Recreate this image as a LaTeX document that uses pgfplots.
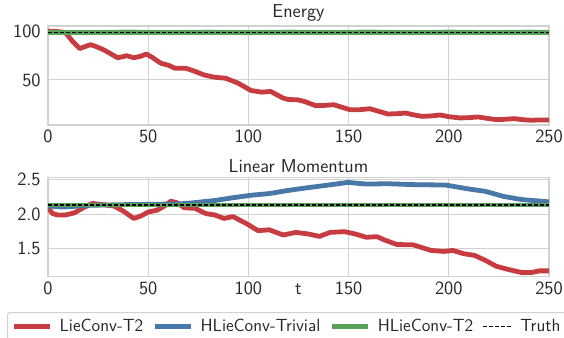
\documentclass[border=0pt]{standalone}
\usepackage{fontspec}
\usepackage{pgfplots}
\pgfplotsset{compat=1.18}
\renewcommand{\familydefault}{\sfdefault}
\definecolor{cred}{RGB}{199,60,64}
\definecolor{cblue}{RGB}{72,120,168}
\definecolor{cgreen}{RGB}{88,160,90}
\definecolor{cgrid}{RGB}{210,210,210}
\definecolor{ctext}{RGB}{38,38,38}
\pgfplotsset{
  base/.style={
    scale only axis, width=375.75pt, height=74.25pt,
    xmin=0, xmax=250, xtick={0,50,...,250},
    grid=major, major grid style={color=cgrid, line width=0.8pt},
    axis line style={cgrid, line width=0.8pt},
    tick style={draw=none},
    /pgf/number format/assume math mode=true,
    font=\fontsize{14}{16}\selectfont,
    tick label style={font=\fontsize{14}{16}\selectfont, color=ctext},
    yticklabel style={xshift=-2pt},
    title style={font=\fontsize{14}{16}\selectfont, color=ctext, yshift=-6pt},
    every axis plot/.append style={line join=round},
  },
  legend image code/.code={\draw[#1] (0pt,0pt) -- (27pt,0pt);},
  shortleg/.style={legend image code/.code={\draw[##1] (0pt,0pt) -- (22pt,0pt);}},
}
\begin{document}
\begin{tikzpicture}
\useasboundingbox (0,0) rectangle (423pt,-253.5pt);
\begin{axis}[base, at={(36pt,-19.5pt)}, anchor=north west,
  title={Energy}, ymin=4, ymax=105, ytick={50,100}]
\addplot[cred, line width=3.6pt] coordinates {
(0,99.8)(4,99.5)(8.6,98.5)(12,90)(15.8,82)(18.5,84)(21.2,86)(24,84)(27.5,81)(31,77)(34.7,72.6)(37,73.5)(39.2,74.7)(42.8,72.6)(46,74)(49.1,76.4)(52,73)(56.3,67)(60,65)(63.5,61.8)(68.9,61.8)(73,59)(77.9,55)(83.3,52.7)(88.7,51.7)(92,49)(95,46.6)(98,43)(101.3,39.2)(106.7,37.5)(111.2,38.2)(114,35)(117.4,31.4)(120,30)(124.6,29.7)(128,28)(133.6,23.7)(138,24)(142.6,24.7)(146,22.5)(150.7,19.6)(155,19.5)(160.6,20.6)(165,18)(169.6,15.2)(174,15.5)(178.6,16.2)(182,14.5)(186.7,12.8)(191,13.2)(195.7,14.2)(200,12.5)(205.6,11.2)(210,11.5)(214.6,12.2)(219,10.8)(223.6,9.5)(228,9.8)(232.6,10.5)(237,9.4)(241.5,8.8)(245,9.2)(250,9.2)};
\addplot[cblue!60, line width=3.6pt] coordinates {
(0,98.6)(20,98.2)(40,98.9)(60,98.2)(80,98.8)(100,98.2)(120,98.8)(140,98.3)(160,98.9)(180,98.2)(200,98.8)(220,98.3)(240,98.8)(250,98.5)};
\addplot[cgreen, line width=3.6pt] coordinates {(0,98.5)(250,98.5)};
\addplot[black, dash pattern=on 3pt off 1.5pt, line width=0.8pt] coordinates {(0,98.5)(250,98.5)};
\end{axis}
\begin{axis}[base, at={(36pt,-133.3pt)}, anchor=north west,
  title={Linear Momentum}, ymin=1.095, ymax=2.53, ytick={1.5,2.0,2.5},
  yticklabel style={/pgf/number format/.cd, fixed, fixed zerofill, precision=1},
  xlabel={t}, xlabel style={at={(axis description cs:0.5,-0.02)}, anchor=north, color=ctext},
  legend columns=4,
  legend style={at={(axis description cs:-0.0818,-0.357)}, anchor=north west,
    draw=cgrid, line width=0.8pt, rounded corners=2pt, text=ctext,
    font=\fontsize{13.2}{15}\selectfont, inner xsep=3pt, inner ysep=3pt,
    /tikz/every even column/.append style={column sep=5pt},
    /tikz/every odd column/.append style={column sep=3.5pt}},
  ]
\addplot[cred, line width=3.6pt] coordinates {
(0,2.095)(2.3,2.01)(5,1.99)(8.6,1.99)(13.1,2.02)(17.6,2.095)(22.1,2.157)(27.5,2.14)(32.9,2.12)(37.4,2.05)(42.8,1.94)(46.4,1.976)(50,2.033)(54.5,2.06)(58.1,2.12)(61.3,2.19)(64.4,2.167)(68,2.095)(73.4,2.086)(78.8,2.01)(83.3,1.99)(87.8,1.94)(92.3,1.967)(99.5,1.857)(104.9,1.762)(110.3,1.776)(117.4,1.70)(123.7,1.738)(130,1.714)(135.4,1.68)(140.8,1.738)(148,1.748)(153.4,1.714)(158.8,1.667)(164.2,1.676)(167.8,1.629)(174.1,1.562)(182.2,1.557)(191.2,1.476)(197.5,1.462)(202,1.476)(207.4,1.429)(212.8,1.405)(218.2,1.333)(223.6,1.248)(229,1.205)(236.2,1.157)(241.5,1.157)(245.1,1.18)(250,1.18)};
\addlegendentry{LieConv-T2}
\addplot[cblue, line width=3.6pt] coordinates {
(0,2.12)(7.7,2.105)(20.3,2.13)(38.3,2.14)(65.3,2.15)(72.5,2.167)(83.3,2.2)(92.3,2.24)(101.3,2.276)(110.3,2.3)(119.2,2.343)(128.2,2.38)(137.2,2.414)(149.8,2.462)(158.8,2.438)(169.6,2.443)(182.2,2.43)(198.4,2.424)(209.2,2.37)(218.2,2.333)(227.2,2.26)(236.2,2.214)(250,2.18)};
\addlegendentry{HLieConv-Trivial}
\addplot[cgreen, line width=3.6pt] coordinates {(0,2.135)(250,2.135)};
\addlegendentry{HLieConv-T2}
\addplot[black, dash pattern=on 3pt off 1.5pt, line width=0.8pt, shortleg] coordinates {(0,2.135)(250,2.135)};
\addlegendentry{Truth}
\end{axis}
\end{tikzpicture}
\end{document}
